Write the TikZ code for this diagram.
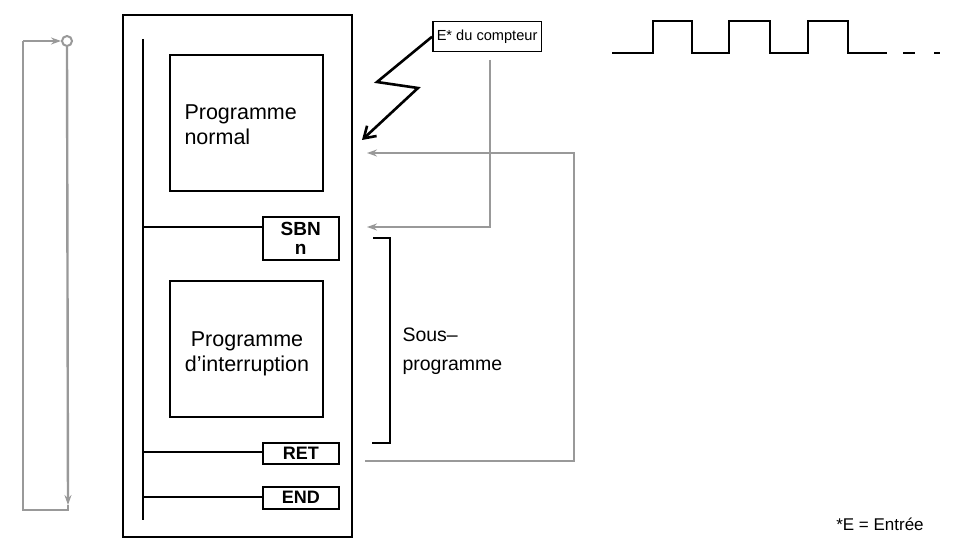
\documentclass[tikz,border=0pt]{standalone}
\usepackage{fontspec}
\setmainfont{Liberation Sans}
\usetikzlibrary{arrows.meta}
\begin{document}
\begin{tikzpicture}[x=1pt,y=-1pt,
  blk/.style={draw=black,line width=2pt},
  gl/.style={draw=black!40,line width=2.4pt},
  ga/.style={gl,-{Stealth[length=10pt,width=7pt]}},
  inst/.style={draw=black,line width=1.6pt,minimum width=76pt,inner sep=0pt},
  lbl/.style={font=\fontsize{21.5}{25}\selectfont,align=left}]
\useasboundingbox (0,0) rectangle (953,548);
% outer
\draw[blk] (123,15) rectangle (352,537);
\draw[blk] (143,39) -- (143,520);
\node[blk,draw,minimum width=153pt,minimum height=136pt,anchor=north west] (pn) at (169,54) {};
\node[lbl,anchor=west] (pnt) at (181,125) {Programme\\normal};
\node[blk,draw,minimum width=153pt,minimum height=136pt,anchor=north west] (pi) at (169,280) {};
\node[lbl,align=center] (pit) at (247,354) {Programme\\d'interruption};
\node[inst,minimum height=43pt,anchor=north west,align=center,font=\fontsize{19}{19}\selectfont\bfseries] (sbn) at (262,216) {SBN\\n};
\node[inst,minimum height=21pt,anchor=north west,font=\fontsize{18}{18}\selectfont\bfseries] (ret) at (262,442) {RET};
\node[inst,minimum height=22pt,anchor=north west,font=\fontsize{18}{18}\selectfont\bfseries] (endn) at (262,486) {END};
\draw[line width=1.5pt] (143,227) -- (sbn.west|-143,227);
\draw[line width=1.5pt] (143,452) -- (ret.west|-143,452);
\draw[line width=1.5pt] (143,497) -- (endn.west|-143,497);
% bracket
\draw[line width=1.8pt] (373,238) -- (390,238) -- (390,443) -- (372,443);
\node[font=\fontsize{19.5}{24}\selectfont,align=left,anchor=west] (sp) at (399,351) {Sous–\\[5pt]programme};
% E* box
\node[draw,line width=1.5pt,anchor=north west,minimum height=30pt,inner xsep=4pt,font=\fontsize{14.6}{17}\selectfont] (ebox) at (432,21) {E* du compteur};
\node[font=\fontsize{17}{20}\selectfont] (note) at (880,524) {*E = Entrée};
% lightning
\coordinate (l1) at (377,82); \coordinate (l2) at (418,88);
\draw[line width=2.6pt,-{Straight Barb[length=11pt,width=14pt]}] (ebox.west) -- (l1) -- (l2) -- (362,140);
% grey connectors
\coordinate (c1) at (490,60); \coordinate (c2) at (490,227);
\draw[ga] (c1) -- (c2) -- (367,227);
\coordinate (r2) at (574,461); \coordinate (r3) at (574,153);
\draw[ga] (365,461) -- (r2) -- (r3) -- (367,153);
% pulses
\draw[line width=2pt] (612,53) -- (653,53) -- (653,21) -- (692,21) -- (692,53) -- (729,53) -- (729,21) -- (770,21) -- (770,53) -- (808,53) -- (808,21) -- (848,21) -- (848,53) -- (887,53);
\draw[line width=2pt] (903,53) -- (915,53) (934,53) -- (940,53);
% left loop
\node[circle,draw=black!40,line width=2pt,minimum size=10pt,inner sep=0pt] (circ) at (67,41) {};
\coordinate (lt) at (23,41); \coordinate (lb) at (23,510); \coordinate (rb) at (68,510);
\draw[ga] (circ.south) -- (68,505);
\draw[gl] (68,505) -- (rb) -- (lb) -- (lt);
\draw[ga] (lt) -- (circ.west);
\end{tikzpicture}
\end{document}
